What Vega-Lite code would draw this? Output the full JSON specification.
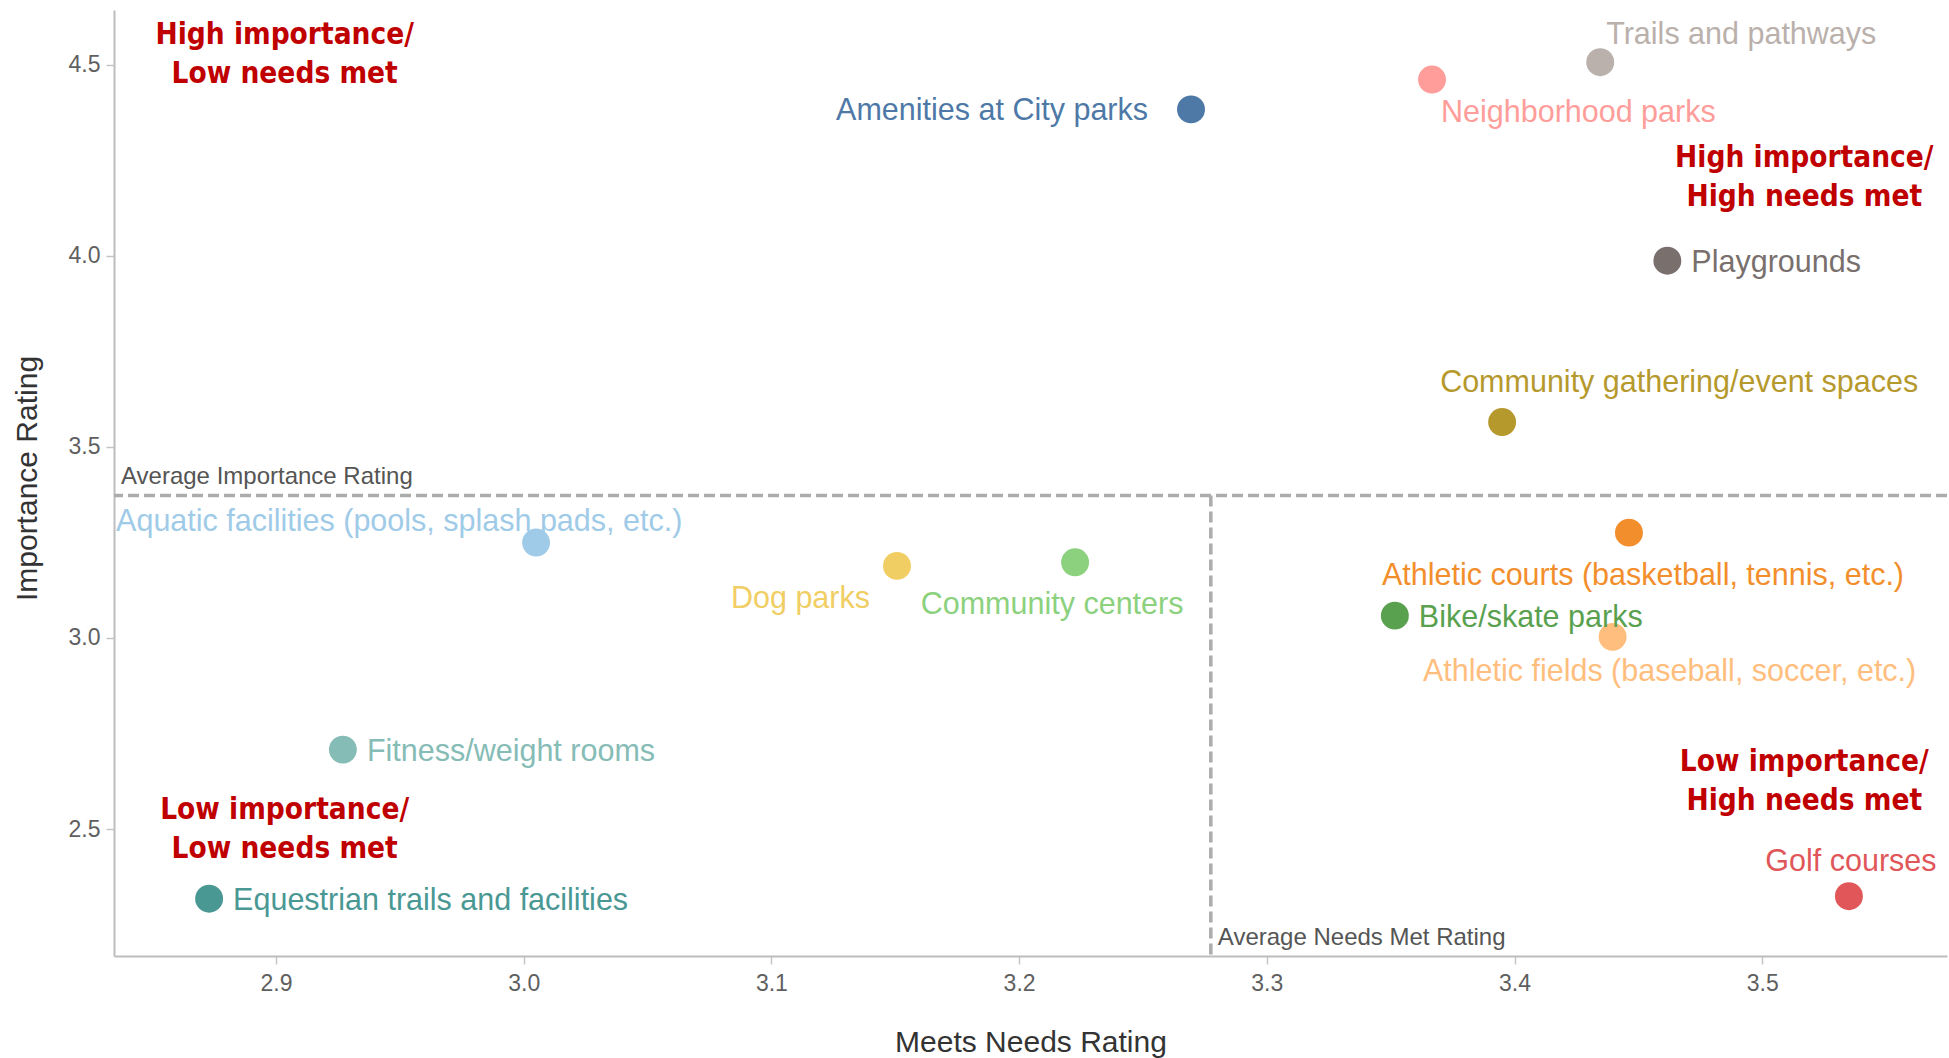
{
  "$schema": "https://vega.github.io/schema/vega-lite/v6.json",
  "width": 1833,
  "height": 946,
  "autosize": {"type": "none"},
  "padding": {"left": 114, "top": 10, "right": 2, "bottom": 102},
  "background": "white",
  "config": {
    "view": {"stroke": null},
    "font": "Liberation Sans",
    "axis": {
      "grid": false,
      "domainColor": "#bdbdbd",
      "domainWidth": 2,
      "tickColor": "#c4c4c4",
      "tickWidth": 1.5,
      "tickSize": 8,
      "labelFont": "Liberation Sans",
      "labelFontSize": 23,
      "labelColor": "#5f5f5f",
      "titleFont": "Liberation Sans",
      "titleFontSize": 30,
      "titleFontWeight": "normal",
      "titleColor": "#333333"
    }
  },
  "datasets": {
    "points": [
      {"facility": "Amenities at City parks", "needs": 3.2694, "importance": 4.383},
      {"facility": "Aquatic facilities (pools, splash pads, etc.)", "needs": 3.005, "importance": 3.2496},
      {"facility": "Athletic courts (basketball, tennis, etc.)", "needs": 3.4462, "importance": 3.2756},
      {"facility": "Athletic fields (baseball, soccer, etc.)", "needs": 3.4396, "importance": 3.003},
      {"facility": "Bike/skate parks", "needs": 3.3517, "importance": 3.0585},
      {"facility": "Community centers", "needs": 3.2226, "importance": 3.198},
      {"facility": "Community gathering/event spaces", "needs": 3.395, "importance": 3.565},
      {"facility": "Dog parks", "needs": 3.1507, "importance": 3.1886},
      {"facility": "Equestrian trails and facilities", "needs": 2.873, "importance": 2.318},
      {"facility": "Fitness/weight rooms", "needs": 2.927, "importance": 2.708},
      {"facility": "Golf courses", "needs": 3.535, "importance": 2.3244},
      {"facility": "Neighborhood parks", "needs": 3.3667, "importance": 4.461},
      {"facility": "Playgrounds", "needs": 3.4617, "importance": 3.987},
      {"facility": "Trails and pathways", "needs": 3.4346, "importance": 4.5065}
    ],
    "quadrants": [
      {"label": "High importance/\nLow needs met", "needs": 2.9035, "importance": 4.578},
      {"label": "High importance/\nHigh needs met", "needs": 3.517, "importance": 4.257},
      {"label": "Low importance/\nHigh needs met", "needs": 3.517, "importance": 2.6756},
      {"label": "Low importance/\nLow needs met", "needs": 2.9035, "importance": 2.5488}
    ],
    "avg": [{"avgNeeds": 3.2774, "avgImportance": 3.373}]
  },
  "layer": [
    {
      "data": {"name": "avg"},
      "mark": {"type": "rule", "color": "#acacac", "strokeWidth": 3.5, "strokeDash": [11, 5]},
      "encoding": {
        "x": {"field": "avgNeeds", "type": "quantitative", "scale": {"domain": [2.8346, 3.5746], "nice": false, "zero": false},
          "axis": {"title": "Meets Needs Rating", "values": [2.9, 3.0, 3.1, 3.2, 3.3, 3.4, 3.5], "format": ".1f", "labelPadding": 8, "titleBaseline": "middle", "titleY": 86}},
        "y": {"field": "avgImportance", "type": "quantitative", "scale": {"domain": [2.168, 4.643], "nice": false, "zero": false},
          "axis": {"title": "Importance Rating", "values": [2.5, 3.0, 3.5, 4.0, 4.5], "format": ".1f", "labelPadding": 6, "titleBaseline": "middle", "titleX": -87, "titleY": 468}}
      }
    },
    {
      "data": {"name": "avg"},
      "mark": {"type": "rule", "color": "#acacac", "strokeWidth": 3.5, "strokeDash": [11, 5]},
      "encoding": {
        "y": {"field": "avgImportance", "type": "quantitative"}
      }
    },
    {
      "data": {"name": "avg"},
      "mark": {"type": "text", "align": "left", "baseline": "bottom", "dx": 7, "dy": -6, "fontSize": 24, "color": "#555555"},
      "encoding": {
        "x": {"datum": 2.8346, "type": "quantitative"},
        "y": {"field": "avgImportance", "type": "quantitative"},
        "text": {"value": "Average Importance Rating"}
      }
    },
    {
      "data": {"name": "avg"},
      "mark": {"type": "text", "align": "left", "baseline": "bottom", "dx": 7, "dy": -6, "fontSize": 24, "color": "#555555"},
      "encoding": {
        "x": {"field": "avgNeeds", "type": "quantitative"},
        "y": {"datum": 2.168, "type": "quantitative"},
        "text": {"value": "Average Needs Met Rating"}
      }
    },
    {
      "data": {"name": "points"},
      "mark": {"type": "point", "shape": "circle", "filled": true, "size": 780, "opacity": 1},
      "encoding": {
        "x": {"field": "needs", "type": "quantitative"},
        "y": {"field": "importance", "type": "quantitative"},
        "color": {"field": "facility", "type": "nominal", "legend": null,
          "scale": {
            "domain": ["Amenities at City parks", "Aquatic facilities (pools, splash pads, etc.)", "Athletic courts (basketball, tennis, etc.)", "Athletic fields (baseball, soccer, etc.)", "Bike/skate parks", "Community centers", "Community gathering/event spaces", "Dog parks", "Equestrian trails and facilities", "Fitness/weight rooms", "Golf courses", "Neighborhood parks", "Playgrounds", "Trails and pathways"],
            "range": ["#4E79A7", "#A0CBE8", "#F28E2B", "#FFBE7D", "#59A14F", "#8CD17D", "#B6992D", "#F1CE63", "#499894", "#86BCB6", "#E15759", "#FF9D9A", "#79706E", "#BAB0AC"]
          }}
      }
    },
    {
      "data": {"name": "points"},
      "transform": [{"filter": {"field": "facility", "oneOf": ["Playgrounds", "Bike/skate parks", "Fitness/weight rooms", "Equestrian trails and facilities"]}}],
      "mark": {"type": "text", "align": "left", "baseline": "middle", "dx": 24, "dy": 2, "fontSize": 30.5},
      "encoding": {
        "x": {"field": "needs", "type": "quantitative"},
        "y": {"field": "importance", "type": "quantitative"},
        "text": {"field": "facility"},
        "color": {"field": "facility", "type": "nominal"}
      }
    },
    {
      "data": {"name": "points"},
      "transform": [{"filter": {"field": "facility", "equal": "Amenities at City parks"}}],
      "mark": {"type": "text", "align": "right", "baseline": "middle", "dx": -43, "dy": 2, "fontSize": 30.5},
      "encoding": {
        "x": {"field": "needs", "type": "quantitative"},
        "y": {"field": "importance", "type": "quantitative"},
        "text": {"field": "facility"},
        "color": {"field": "facility", "type": "nominal"}
      }
    },
    {
      "data": {"name": "points"},
      "transform": [{"filter": {"field": "facility", "equal": "Neighborhood parks"}}],
      "mark": {"type": "text", "align": "left", "baseline": "middle", "dx": 9, "dy": 33, "fontSize": 30.5},
      "encoding": {
        "x": {"field": "needs", "type": "quantitative"},
        "y": {"field": "importance", "type": "quantitative"},
        "text": {"field": "facility"},
        "color": {"field": "facility", "type": "nominal"}
      }
    },
    {
      "data": {"name": "points"},
      "transform": [{"filter": {"field": "facility", "equal": "Trails and pathways"}}],
      "mark": {"type": "text", "align": "left", "baseline": "middle", "dx": 6, "dy": -27, "fontSize": 30.5},
      "encoding": {
        "x": {"field": "needs", "type": "quantitative"},
        "y": {"field": "importance", "type": "quantitative"},
        "text": {"field": "facility"},
        "color": {"field": "facility", "type": "nominal"}
      }
    },
    {
      "data": {"name": "points"},
      "transform": [{"filter": {"field": "facility", "equal": "Community gathering/event spaces"}}],
      "mark": {"type": "text", "align": "left", "baseline": "middle", "dx": -62, "dy": -39, "fontSize": 30.5},
      "encoding": {
        "x": {"field": "needs", "type": "quantitative"},
        "y": {"field": "importance", "type": "quantitative"},
        "text": {"field": "facility"},
        "color": {"field": "facility", "type": "nominal"}
      }
    },
    {
      "data": {"name": "points"},
      "transform": [{"filter": {"field": "facility", "equal": "Aquatic facilities (pools, splash pads, etc.)"}}],
      "mark": {"type": "text", "align": "left", "baseline": "middle", "dx": -420, "dy": -21, "fontSize": 30.5},
      "encoding": {
        "x": {"field": "needs", "type": "quantitative"},
        "y": {"field": "importance", "type": "quantitative"},
        "text": {"field": "facility"},
        "color": {"field": "facility", "type": "nominal"}
      }
    },
    {
      "data": {"name": "points"},
      "transform": [{"filter": {"field": "facility", "equal": "Dog parks"}}],
      "mark": {"type": "text", "align": "right", "baseline": "middle", "dx": -27, "dy": 33, "fontSize": 30.5},
      "encoding": {
        "x": {"field": "needs", "type": "quantitative"},
        "y": {"field": "importance", "type": "quantitative"},
        "text": {"field": "facility"},
        "color": {"field": "facility", "type": "nominal"}
      }
    },
    {
      "data": {"name": "points"},
      "transform": [{"filter": {"field": "facility", "equal": "Community centers"}}],
      "mark": {"type": "text", "align": "center", "baseline": "middle", "dx": -23, "dy": 43, "fontSize": 30.5},
      "encoding": {
        "x": {"field": "needs", "type": "quantitative"},
        "y": {"field": "importance", "type": "quantitative"},
        "text": {"field": "facility"},
        "color": {"field": "facility", "type": "nominal"}
      }
    },
    {
      "data": {"name": "points"},
      "transform": [{"filter": {"field": "facility", "equal": "Athletic courts (basketball, tennis, etc.)"}}],
      "mark": {"type": "text", "align": "center", "baseline": "middle", "dx": 14, "dy": 43, "fontSize": 30.5},
      "encoding": {
        "x": {"field": "needs", "type": "quantitative"},
        "y": {"field": "importance", "type": "quantitative"},
        "text": {"field": "facility"},
        "color": {"field": "facility", "type": "nominal"}
      }
    },
    {
      "data": {"name": "points"},
      "transform": [{"filter": {"field": "facility", "equal": "Athletic fields (baseball, soccer, etc.)"}}],
      "mark": {"type": "text", "align": "center", "baseline": "middle", "dx": 57, "dy": 35, "fontSize": 30.5},
      "encoding": {
        "x": {"field": "needs", "type": "quantitative"},
        "y": {"field": "importance", "type": "quantitative"},
        "text": {"field": "facility"},
        "color": {"field": "facility", "type": "nominal"}
      }
    },
    {
      "data": {"name": "points"},
      "transform": [{"filter": {"field": "facility", "equal": "Golf courses"}}],
      "mark": {"type": "text", "align": "center", "baseline": "middle", "dx": 2, "dy": -34, "fontSize": 30.5},
      "encoding": {
        "x": {"field": "needs", "type": "quantitative"},
        "y": {"field": "importance", "type": "quantitative"},
        "text": {"field": "facility"},
        "color": {"field": "facility", "type": "nominal"}
      }
    },
    {
      "data": {"name": "quadrants"},
      "mark": {"type": "text", "align": "center", "baseline": "middle", "lineBreak": "\n", "lineHeight": 39, "font": "DejaVu Sans Condensed", "fontWeight": "bold", "fontSize": 29.5, "color": "#C00000"},
      "encoding": {
        "x": {"field": "needs", "type": "quantitative"},
        "y": {"field": "importance", "type": "quantitative"},
        "text": {"field": "label"}
      }
    }
  ]
}
